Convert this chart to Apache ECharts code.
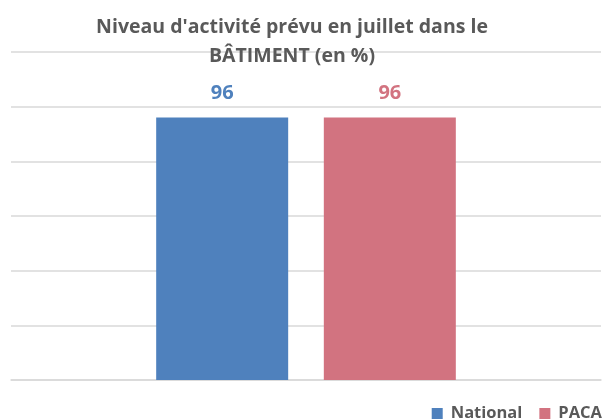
<!DOCTYPE html>
<html>
<head>
<meta charset="utf-8">
<script src="https://cdn.jsdelivr.net/npm/echarts@6/dist/echarts.min.js"></script>
<style>
  html, body { margin: 0; padding: 0; background: #fff; }
  #chart { width: 607px; height: 419px; }
</style>
</head>
<body>
<div id="chart"></div>
<script>
  var categories = ['Juillet'];
  var seriesNames = ['National', 'PACA'];
  var nationalValues = [96];
  var pacaValues = [96];
  var colors = ['#4f81bd', '#d27380'];

  var chart = echarts.init(document.getElementById('chart'));
  chart.setOption({
    animation: false,
    title: {
      text: "Niveau d'activité prévu en juillet dans le\nBÂTIMENT (en %)",
      left: 287,
      textAlign: 'center',
      top: 8,
      textStyle: {
        fontFamily: 'Open Sans',
        fontWeight: 'bold',
        fontSize: 19.5,
        lineHeight: 29,
        color: '#595959'
      }
    },
    legend: {
      data: seriesNames,
      right: 0,
      bottom: -8,
      itemWidth: 11,
      itemHeight: 11,
      itemGap: 17,
      icon: 'rect',
      textStyle: {
        fontFamily: 'Open Sans',
        fontWeight: 'bold',
        fontSize: 16.5,
        color: '#595959',
        padding: [0, 0, 0, 3]
      }
    },
    grid: { left: 11, right: 6, top: 52, bottom: 39 },
    xAxis: {
      type: 'category',
      data: categories,
      axisLine: { show: true, lineStyle: { color: '#d9d9d9', width: 1.5 } },
      axisTick: { show: false },
      axisLabel: { show: false }
    },
    yAxis: {
      type: 'value',
      min: 0,
      max: 120,
      interval: 20,
      axisLabel: { show: false },
      axisLine: { show: false },
      axisTick: { show: false },
      splitLine: { lineStyle: { color: '#d9d9d9', width: 1.5 } }
    },
    series: [
      {
        name: seriesNames[0],
        type: 'bar',
        data: nationalValues,
        barWidth: 132,
        barGap: '27%',
        itemStyle: { color: colors[0] },
        label: {
          show: true, position: 'top', distance: 14,
          fontFamily: 'Open Sans', fontWeight: 'bold', fontSize: 20, color: colors[0]
        }
      },
      {
        name: seriesNames[1],
        type: 'bar',
        data: pacaValues,
        barWidth: 132,
        itemStyle: { color: colors[1] },
        label: {
          show: true, position: 'top', distance: 14,
          fontFamily: 'Open Sans', fontWeight: 'bold', fontSize: 20, color: colors[1]
        }
      }
    ]
  });
</script>
</body>
</html>
